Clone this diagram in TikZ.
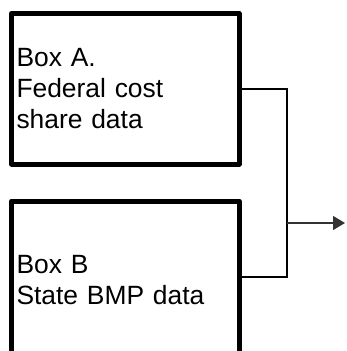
\documentclass[tikz,border=0pt]{standalone}
\usepackage{fontspec}
\setmainfont{Liberation Sans}
\usetikzlibrary{arrows.meta}
\begin{document}
\begin{tikzpicture}[x=1pt,y=-1pt,
  databox/.style={draw=black, line width=5pt, line join=round, rectangle,
    minimum width=227.5pt, text width=217.5pt, inner xsep=5pt, align=left,
    font=\fontsize{26.4}{31}\selectfont},
  link/.style={draw=black, line width=1.5pt},
  outlink/.style={draw=black!80, line width=1.2pt, -{Triangle[length=12pt,width=14pt]}}]
\useasboundingbox (0,0) rectangle (346,351);
\clip (0,0) rectangle (346,351);
\fill[white] (0,0) rectangle (346,351);
\node[databox, minimum height=150.5pt] (A) at (125.25,88.75) {Box A.\\Federal cost\\share data};
\node[databox, minimum height=158pt] (B) at (125.25,280) {Box B\\State BMP data};
\coordinate (j) at (287,223);
\coordinate (out) at (345,223);
\draw[link] (A.east) -| (j) |- ([yshift=3pt]B.east);
\draw[outlink] (j) -- (out);
\end{tikzpicture}
\end{document}
